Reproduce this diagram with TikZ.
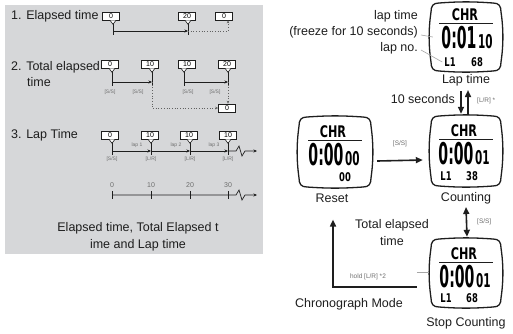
\documentclass[tikz,border=0pt]{standalone}
\usepackage{fontspec}
\setmainfont{Liberation Sans}
\newfontfamily\lcdfont{DejaVu Sans}
\usetikzlibrary{arrows.meta,calc}
\definecolor{panelgray}{HTML}{D6D7D9}
\definecolor{ink}{HTML}{1E1E1E}
\definecolor{faint}{HTML}{6E6E6E}
\newcommand\sqz[3]{\scalebox{#1}[1]{\fontsize{#2}{#2}\selectfont\lcdfont\bfseries #3}}
\newcommand\watchframe[2]{\draw[wline] (-#1+8,-#2) .. controls (-6,-#2-1.5) and (6,-#2-1.5) .. (#1-8,-#2) .. controls (#1-2,-#2) and (#1,-#2+3) .. (#1,-#2+9) .. controls (#1+2.5,-8) and (#1+2.5,8) .. (#1,#2-9) .. controls (#1,#2-3) and (#1-2,#2) .. (#1-8,#2) .. controls (6,#2+1.5) and (-6,#2+1.5) .. (-#1+8,#2) .. controls (-#1+2,#2) and (-#1,#2-3) .. (-#1,#2-9) .. controls (-#1-2.5,8) and (-#1-2.5,-8) .. (-#1,-#2+9) .. controls (-#1,-#2+3) and (-#1+2,-#2) .. cycle;}
% callout: name, box cx, box cy, tick x, tick bottom y, text
\newcommand\callout[6]{%
  \node[cb] (#1) at (#2,#3) {#6};
  \draw[cbv] ($(#1.south)+(#4-#2-3,0)$) -- ($(#1.south)+(#4-#2,4)$) -- ($(#1.south)+(#4-#2+3,0)$);
  \draw[tl] ($(#1.south)+(#4-#2,4)$) -- ($(#1.south)+(#4-#2,#5-#3-4)$);
}
\tikzset{
  lbl/.style={inner sep=0, text=ink, font=\fontsize{12.5}{14}\selectfont},
  cb/.style={draw=ink, line width=0.6pt, fill=white, minimum width=17pt, minimum height=8pt, inner sep=0, font=\fontsize{7}{7}\selectfont},
  cbv/.style={draw=ink, line width=0.6pt, fill=white},
  tl/.style={line width=0.7pt, draw=ink},
  sm/.style={inner sep=0, text=faint, font=\fontsize{5}{5}\selectfont},
  smn/.style={inner sep=0, text=faint, font=\fontsize{7}{7}\selectfont},
  sarr/.style={tl, -{Stealth[length=3.5pt,width=3pt]}},
  dots/.style={line width=0.7pt, draw=ink!70, dotted},
  wline/.style={line width=1.3pt, draw=ink, fill=white},
  wnode/.style={inner sep=0, draw=none},
  dg/.style={inner sep=0},
  big/.style={line width=1.6pt, draw=ink, -{Triangle[length=7pt,width=6pt]}},
  bigb/.style={line width=1.6pt, draw=ink, {Triangle[length=7pt,width=6pt]}-{Triangle[length=7pt,width=6pt]}},
  lead/.style={line width=0.6pt, draw=black!35},
  rl/.style={inner sep=0, text=faint, font=\fontsize{6.5}{6.5}\selectfont},
}
\begin{document}
\begin{tikzpicture}[x=1pt,y=-1pt]
\useasboundingbox (0,0) rectangle (513,333);
\fill[panelgray] (5,5) rectangle (263,254);

% ---------- left panel ----------
\node[lbl,anchor=west] (t1) at (11,16) {1. Elapsed time};
\node[lbl,anchor=west] (t2) at (11,67) {2. Total elapsed};
\node[lbl,anchor=west] (t2b) at (27,82) {time};
\node[lbl,anchor=west] (t3) at (11,135) {3. Lap Time};
\node[lbl,align=center,font=\fontsize{12.5}{17}\selectfont] (cap) at (138,237) {Elapsed time, Total Elapsed t\\ime and Lap time};

% row 1
\callout{b1a}{111}{16}{113}{31}{0}
\callout{b1b}{187}{16}{188}{31}{20}
\node[cb] (b1c) at (224,16) {0};
\coordinate (r1a) at (113,31);
\coordinate (r1b) at (188,31);
\coordinate (r1c) at (228,31);
\draw[tl] ($(r1a)+(0,-4)$) -- ($(r1a)+(0,4)$);
\draw[tl] ($(r1b)+(0,-4)$) -- ($(r1b)+(0,4)$);
\draw[sarr] (r1a) -- (r1b);
\draw[dots,-{Stealth[length=3pt,width=2.5pt]}] (r1b) -- (r1c) -- (r1c |- b1c.south);

% row 2
\callout{b2a}{110}{64}{112}{82}{0}
\callout{b2b}{150}{64}{152}{82}{10}
\callout{b2c}{187}{64}{184}{82}{10}
\callout{b2d}{227}{64}{228}{82}{20}
\node[cb] (b2e) at (227,108) {0};
\coordinate (r2a) at (112,82);
\coordinate (r2b) at (152,82);
\coordinate (r2c) at (184,82);
\coordinate (r2d) at (228,82);
\foreach \c in {r2a,r2b,r2c,r2d}{\draw[tl] ($(\c)+(0,-4)$) -- ($(\c)+(0,4)$);}
\draw[sarr] (r2a) -- (r2b);
\draw[sarr] (r2c) -- (r2d);
\node[sm] (s2a) at (110,92) {[S/S]};
\node[sm] (s2b) at (138,92) {[S/S]};
\node[sm] (s2c) at (188,92) {[S/S]};
\node[sm] (s2d) at (215,92) {[S/S]};
\draw[dots,-{Stealth[length=3pt,width=2.5pt]}] (r2b) -- (r2b |- b2e.west) -- (b2e.west);
\draw[dots,-{Stealth[length=3pt,width=2.5pt]}] (r2d) -- (r2d |- b2e.north);

% row 3
\callout{b3a}{110}{135}{112}{151}{0}
\callout{b3b}{150}{135}{151}{151}{10}
\callout{b3c}{189}{135}{190}{151}{10}
\callout{b3d}{228}{135}{228}{151}{10}
\coordinate (r3a) at (112,151);
\coordinate (r3b) at (151,151);
\coordinate (r3c) at (190,151);
\coordinate (r3d) at (228,151);
\coordinate (r3e) at (257,151);
\foreach \c in {r3a,r3b,r3c,r3d}{\draw[tl] ($(\c)+(0,-4)$) -- ($(\c)+(0,4)$);}
\draw[sarr] (r3a) -- (r3b);
\draw[sarr] (r3b) -- (r3c);
\draw[sarr] (r3c) -- (r3d);
\draw[sarr] (r3d) -- ++(8,0) -- ++(3,-5) -- ++(3,10) -- ++(3,-5) -- (r3e);
\node[sm] (l1) at (137,145) {lap 1};
\node[sm] (l2) at (176,145) {lap 2};
\node[sm] (l3) at (214,145) {lap 3};
\node[sm] (s3a) at (112,159) {[S/S]};
\node[sm] (s3b) at (151,159) {[L/R]};
\node[sm] (s3c) at (190,159) {[L/R]};
\node[sm] (s3d) at (228,159) {[L/R]};

% row 4 scale
\coordinate (r4a) at (112,195);
\coordinate (r4b) at (151,195);
\coordinate (r4c) at (190,195);
\coordinate (r4d) at (228,195);
\coordinate (r4e) at (257,195);
\foreach \c/\t in {r4a/0,r4b/10,r4c/20,r4d/30}{\draw[tl] ($(\c)+(0,-4)$) -- ($(\c)+(0,4)$); \node[smn] at ($(\c)+(0,-10)$) {\t};}
\draw[sarr] (r4a) -- (r4d) -- ++(8,0) -- ++(3,-5) -- ++(3,10) -- ++(3,-5) -- (r4e);

% ---------- right: watches ----------
% lap time watch
\node[wnode,minimum width=72pt,minimum height=70pt] (lapw) at (466,37) {};
\begin{scope}[shift={(lapw.center)}]
\watchframe{35}{34}
\node[dg] (lapchr) at (-1,-22) {\sqz{0.7}{16}{CHR}};
\draw[line width=1.2pt,draw=ink] (-27,-13.5) -- (27,-13.5);
\node[dg] (lapdig) at (1,0.5) {\sqz{0.47}{30}{0:01}\hspace{1.5pt}\sqz{0.55}{19}{10}};
\node[dg] (lapl1) at (-16,25) {\sqz{0.7}{12}{L1}};
\node[dg] (lapno) at (11,25) {\sqz{0.7}{12}{68}};
\end{scope}
\node[lbl] (laplbl) at (466,80) {Lap time};
\node[lbl,anchor=east] (n1) at (418,16) {lap time};
\node[lbl,anchor=east] (n2) at (418,32) {(freeze for 10 seconds)};
\node[lbl,anchor=east] (n3) at (418,48) {lap no.};
\draw[lead] ($(n2.east)+(3,3)$) -- ($(lapw.west)+(3,0)$);
\draw[lead] ($(n3.east)+(3,2)$) -- ($(lapl1.west)+(-2,0)$);

% counting watch
\node[wnode,minimum width=72pt,minimum height=72pt] (countw) at (466,151) {};
\begin{scope}[shift={(countw.center)}]
\watchframe{35}{35}
\node[dg] (cchr) at (-2,-20) {\sqz{0.7}{16}{CHR}};
\draw[line width=1.2pt,draw=ink] (-27,-11.5) -- (27,-11.5);
\node[dg] (cdig) at (-2,3) {\sqz{0.47}{30}{0:00}\hspace{1.5pt}\sqz{0.55}{19}{01}};
\node[dg] (cl1) at (-20,25.5) {\sqz{0.7}{12}{L1}};
\node[dg] (cno) at (6,25.5) {\sqz{0.7}{12}{38}};
\end{scope}
\node[lbl] (countlbl) at (466,198) {Counting};

% reset watch
\node[wnode,minimum width=72pt,minimum height=72pt] (resetw) at (335,152) {};
\begin{scope}[shift={(resetw.center)}]
\watchframe{36}{35}
\node[dg] (rchr) at (-2,-20) {\sqz{0.7}{16}{CHR}};
\draw[line width=1.2pt,draw=ink] (-27,-11.5) -- (27,-11.5);
\node[dg] (rdig) at (-1,3) {\sqz{0.47}{30}{0:00}\hspace{1.5pt}\sqz{0.55}{19}{00}};
\node[dg] (rno) at (10,25.5) {\sqz{0.7}{12}{00}};
\end{scope}
\node[lbl] (resetlbl) at (332,198) {Reset};

% stop counting watch
\node[wnode,minimum width=72pt,minimum height=68pt] (stopw) at (466,273) {};
\begin{scope}[shift={(stopw.center)}]
\watchframe{35}{34}
\node[dg] (schr) at (-2,-19) {\sqz{0.7}{16}{CHR}};
\draw[line width=1.2pt,draw=ink] (-27,-10.5) -- (27,-10.5);
\node[dg] (sdig) at (-1,3.5) {\sqz{0.47}{30}{0:00}\hspace{1.5pt}\sqz{0.55}{19}{01}};
\node[dg] (sl1) at (-20,25) {\sqz{0.7}{12}{L1}};
\node[dg] (sno) at (6,25) {\sqz{0.7}{12}{68}};
\end{scope}
\node[lbl] (stoplbl) at (466,323) {Stop Counting};
\draw[lead] ($(stopw.west)+(-13,-1)$) -- ($(stopw.west)+(-1,-1)$);

% connectors
\draw[big] ($(resetw.east)+(6,9)$) -- ($(countw.west)+(-7,9)$);
\node[rl] (ss1) at (400,144) {[S/S]};
\node[lbl,anchor=east] (tensec) at (455,99) {10 seconds};
\draw[big] ($(laplbl.south)+(-5,5)$) -- ($(countw.north)+(-5,-1)$);
\draw[big] ($(countw.north)+(2,-1)$) -- ($(laplbl.south)+(2,4)$);
\node[rl,anchor=west] (lr1) at (477,101) {[L/R] *};
\draw[bigb] ($(countlbl.south)+(0,3)$) -- ($(stopw.north)+(1,-2)$);
\node[rl,anchor=west] (ss2) at (477,222) {[S/S]};
\node[lbl] (tot1) at (392,225) {Total elapsed};
\node[lbl] (tot2) at (392,241) {time};
\coordinate (corner) at (333,287);
\draw[big] ($(stopw.west)+(-13,14)$) -- (corner) -- ($(resetlbl.south)+(1,17)$);
\node[rl] (hold) at (368,277) {hold [L/R] *2};
\node[lbl] (chrono) at (349,304) {Chronograph Mode};
\end{tikzpicture}
\end{document}
